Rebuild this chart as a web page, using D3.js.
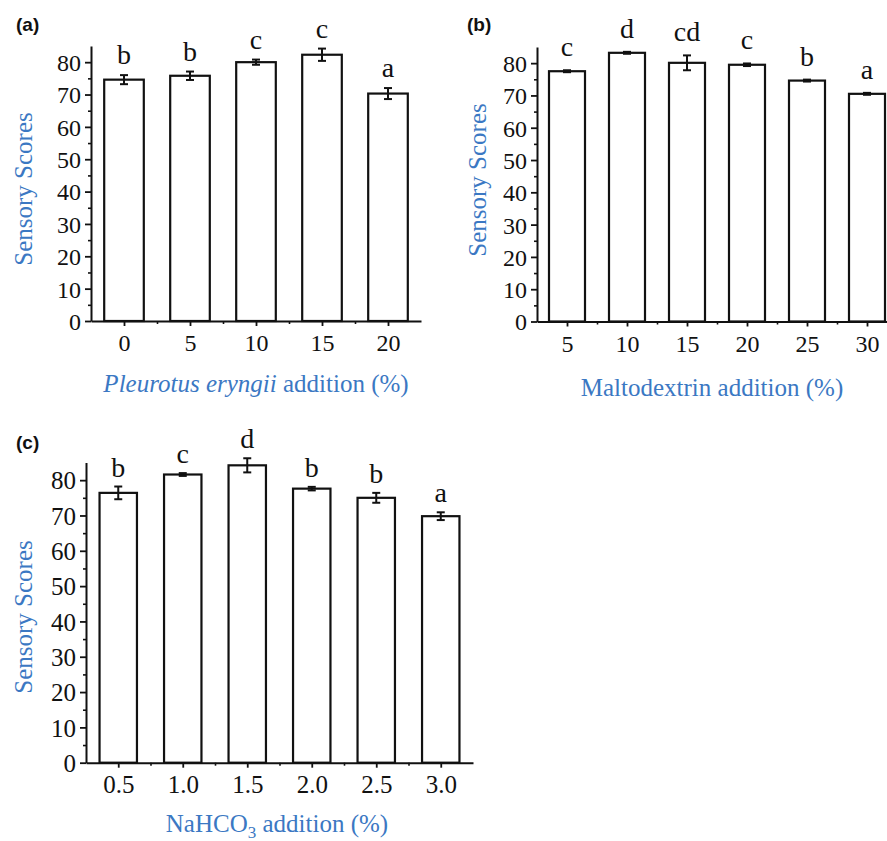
<!DOCTYPE html>
<html>
<head>
<meta charset="utf-8">
<script src="https://cdn.jsdelivr.net/npm/d3@7"></script>
<style>
  html, body { margin: 0; padding: 0; background: #fff; }
  svg { display: block; }
</style>
</head>
<body>
<div id="chart"></div>
<script>
// ---------------- DATA ----------------
const yTicks = [0, 10, 20, 30, 40, 50, 60, 70, 80];

const catsA = [0, 5, 10, 15, 20];
const valsA = [74.6, 75.8, 80.0, 82.3, 70.3];
const errA = [1.4, 1.3, 0.8, 1.9, 1.7];
const lettersA = ["b", "b", "c", "c", "a"];

const catsB = [5, 10, 15, 20, 25, 30];
const valsB = [77.5, 83.2, 80.1, 79.5, 74.6, 70.5];
const errB = [0.3, 0.3, 2.3, 0.4, 0.3, 0.3];
const lettersB = ["c", "d", "cd", "c", "b", "a"];

const catsC = [0.5, 1.0, 1.5, 2.0, 2.5, 3.0];
const valsC = [76.4, 81.6, 84.2, 77.6, 75.0, 69.8];
const errC = [1.8, 0.4, 2.0, 0.5, 1.4, 1.1];
const lettersC = ["b", "c", "d", "b", "b", "a"];

// ---------------- DRAWING ----------------
const W = 887, H = 841;
const BLUE = "#3b78c3";
const SERIF = "'Liberation Serif', 'Times New Roman', serif";
const SANS = "'Liberation Sans', Arial, sans-serif";

const svg = d3.select("#chart").append("svg")
  .attr("width", W).attr("height", H)
  .attr("viewBox", `0 0 ${W} ${H}`);

function drawPanel(cfg) {
  const g = svg.append("g");
  const x = d3.scaleLinear().domain(cfg.xDomain).range([cfg.x0, cfg.x1]);
  const y = d3.scaleLinear().domain([0, 85]).range([cfg.yBot, cfg.yTop]);
  const data = cfg.cats.map((c, i) => ({ c, v: cfg.vals[i], e: cfg.errs[i], l: cfg.letters[i] }));
  const halfW = (x(cfg.barW) - x(0)) / 2;

  // bars
  g.selectAll("rect.bar").data(data).join("rect")
    .attr("class", "bar")
    .attr("x", d => x(d.c) - halfW)
    .attr("width", halfW * 2)
    .attr("y", d => y(d.v))
    .attr("height", d => y(0) - y(d.v))
    .attr("fill", "#fff")
    .attr("stroke", "#111")
    .attr("stroke-width", 2.2);

  // error bars
  const eb = g.selectAll("g.err").data(data).join("g").attr("class", "err")
    .attr("stroke", "#111").attr("stroke-width", 2);
  eb.append("line")
    .attr("x1", d => x(d.c)).attr("x2", d => x(d.c))
    .attr("y1", d => y(d.v + d.e)).attr("y2", d => y(d.v - d.e));
  eb.append("line")
    .attr("x1", d => x(d.c) - 4).attr("x2", d => x(d.c) + 4)
    .attr("y1", d => y(d.v + d.e)).attr("y2", d => y(d.v + d.e));
  eb.append("line")
    .attr("x1", d => x(d.c) - 4).attr("x2", d => x(d.c) + 4)
    .attr("y1", d => y(d.v - d.e)).attr("y2", d => y(d.v - d.e));

  // significance letters
  g.selectAll("text.sig").data(data).join("text")
    .attr("class", "sig")
    .attr("x", d => x(d.c))
    .attr("y", d => y(d.v + d.e) - cfg.letterGap)
    .attr("text-anchor", "middle")
    .attr("font-family", SERIF)
    .attr("font-size", 28)
    .attr("fill", "#111")
    .text(d => d.l);

  // Y axis minor ticks
  const yMinor = d3.range(5, 85, 10);
  g.append("g").attr("transform", `translate(${cfg.x0},0)`)
    .call(d3.axisLeft(y).tickValues(yMinor).tickSize(3).tickFormat(""))
    .call(s => s.select(".domain").remove())
    .call(s => s.selectAll("line").attr("stroke", "#111").attr("stroke-width", 1.6));
  // Y axis major
  g.append("g").attr("transform", `translate(${cfg.x0},0)`)
    .call(d3.axisLeft(y).tickValues(yTicks).tickSize(6).tickSizeOuter(0))
    .call(s => s.select(".domain").attr("stroke", "#111").attr("stroke-width", 2))
    .call(s => s.selectAll("line").attr("stroke", "#111").attr("stroke-width", 1.8))
    .call(s => s.selectAll("text")
      .attr("x", -10).attr("dy", "0.35em")
      .attr("font-family", SERIF).attr("font-size", cfg.tickFont).attr("fill", "#111"));

  // X axis minor ticks
  g.append("g").attr("transform", `translate(0,${cfg.yBot})`)
    .call(d3.axisBottom(x).tickValues(cfg.xMinor).tickSize(3).tickFormat(""))
    .call(s => s.select(".domain").remove())
    .call(s => s.selectAll("line").attr("stroke", "#111").attr("stroke-width", 1.6));
  // X axis major
  g.append("g").attr("transform", `translate(0,${cfg.yBot})`)
    .call(d3.axisBottom(x).tickValues(cfg.cats).tickSize(5).tickSizeOuter(0).tickFormat(cfg.fmt))
    .call(s => s.select(".domain").attr("stroke", "#111").attr("stroke-width", 2))
    .call(s => s.selectAll("line").attr("stroke", "#111").attr("stroke-width", 1.8))
    .call(s => s.selectAll("text")
      .attr("y", 30).attr("dy", null)
      .attr("font-family", SERIF).attr("font-size", cfg.tickFont).attr("fill", "#111"));

  // Y title
  g.append("text")
    .attr("transform", `translate(${cfg.yTitle[0]},${cfg.yTitle[1]}) rotate(-90)`)
    .attr("text-anchor", "middle")
    .attr("dominant-baseline", "central")
    .attr("font-family", SERIF).attr("font-size", 25).attr("fill", BLUE)
    .text("Sensory Scores");

  // X title
  const xt = g.append("text")
    .attr("x", cfg.xTitle[0]).attr("y", cfg.xTitle[1])
    .attr("text-anchor", "middle")
    .attr("font-family", SERIF).attr("font-size", 25).attr("fill", BLUE);
  cfg.titleParts.forEach(p => {
    const t = xt.append("tspan").text(p.t);
    if (p.i) t.attr("font-style", "italic");
    if (p.sub) t.attr("font-size", 17).attr("dy", 6);
    if (p.after) t.attr("dy", -6);
  });

  // panel label
  g.append("text")
    .attr("x", cfg.label[0]).attr("y", cfg.label[1])
    .attr("font-family", SANS).attr("font-weight", "bold")
    .attr("font-size", 19).attr("fill", "#111")
    .text(cfg.labelText);
}

drawPanel({
  cats: catsA, vals: valsA, errs: errA, letters: lettersA,
  xDomain: [-2.5, 22.5], x0: 91, x1: 421, yTop: 46, yBot: 321,
  barW: 3, xMinor: [2.5, 7.5, 12.5, 17.5], fmt: d3.format("d"),
  tickFont: 24, letterGap: 11,
  yTitle: [23, 189], xTitle: [256, 392],
  titleParts: [{ t: "Pleurotus eryngii", i: true }, { t: " addition (%)" }],
  label: [16, 31], labelText: "(a)"
});

drawPanel({
  cats: catsB, vals: valsB, errs: errB, letters: lettersB,
  xDomain: [2.5, 32.5], x0: 537, x1: 897, yTop: 47, yBot: 321.5,
  barW: 3, xMinor: [7.5, 12.5, 17.5, 22.5, 27.5], fmt: d3.format("d"),
  tickFont: 24, letterGap: 14,
  yTitle: [477, 180], xTitle: [712, 396],
  titleParts: [{ t: "Maltodextrin addition (%)" }],
  label: [467, 31], labelText: "(b)"
});

drawPanel({
  cats: catsC, vals: valsC, errs: errC, letters: lettersC,
  xDomain: [0.25, 3.25], x0: 86, x1: 473, yTop: 462.5, yBot: 762.7,
  barW: 0.29, xMinor: [0.75, 1.25, 1.75, 2.25, 2.75], fmt: d3.format(".1f"),
  tickFont: 25, letterGap: 10,
  yTitle: [23, 617], xTitle: [277, 832],
  titleParts: [{ t: "NaHCO" }, { t: "3", sub: true }, { t: " addition (%)", after: true }],
  label: [16, 449], labelText: "(c)"
});
</script>
</body>
</html>
